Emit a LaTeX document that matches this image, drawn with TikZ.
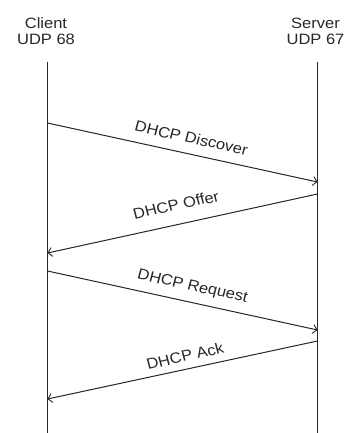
\documentclass[tikz,border=0pt]{standalone}
\usepackage{fontspec}
\setmainfont{Liberation Sans}
\usetikzlibrary{arrows.meta}
\begin{document}
\begin{tikzpicture}[x=1pt,y=1pt,
  lbl/.style={font=\fontsize{15}{16.6}\selectfont, text=black!85, inner sep=0pt},
  head/.style={lbl, align=center, anchor=south, xscale=1.1},
  msglbl/.style={lbl, xscale=1.1},
  life/.style={draw=black!85, line width=1.1pt},
  msg/.style={draw=black!85, line width=1pt, -{Straight Barb[length=4pt,width=9pt,line width=0.9pt]}}]
\useasboundingbox (0,0) rectangle (344,-433);
% headers
\node[head] (client) at (46,-45.3) {Client\\UDP 68};
\node[head] (server) at (315.5,-45.3) {Server\\UDP 67};
% lifelines
\coordinate (ctop) at (47.5,-62);
\coordinate (cbot) at (47.5,-433);
\coordinate (stop) at (317.5,-62);
\coordinate (sbot) at (317.5,-433);
\draw[life] (ctop) -- (cbot);
\draw[life] (stop) -- (sbot);
% message endpoints
\coordinate (c1) at (47.5,-123);
\coordinate (s1) at (317.5,-182);
\coordinate (s2) at (317.5,-194);
\coordinate (c2) at (47.5,-253);
\coordinate (c3) at (47.5,-271);
\coordinate (s3) at (317.5,-330);
\coordinate (s4) at (317.5,-341);
\coordinate (c4) at (47.5,-399);
\draw[msg] (c1) -- (s1);
\draw[msg] (s2) -- (c2);
\draw[msg] (c3) -- (s3);
\draw[msg] (s4) -- (c4);
% labels
\node[msglbl, rotate=-13.5] (ldisc) at (191.5,-138) {DHCP Discover};
\node[msglbl, rotate=13.5] (loffer) at (176,-205) {DHCP Offer};
\node[msglbl, rotate=-13.5] (lreq) at (192.5,-287) {DHCP Request};
\node[msglbl, rotate=13.5] (lack) at (185,-356) {DHCP Ack};
\end{tikzpicture}
\end{document}
